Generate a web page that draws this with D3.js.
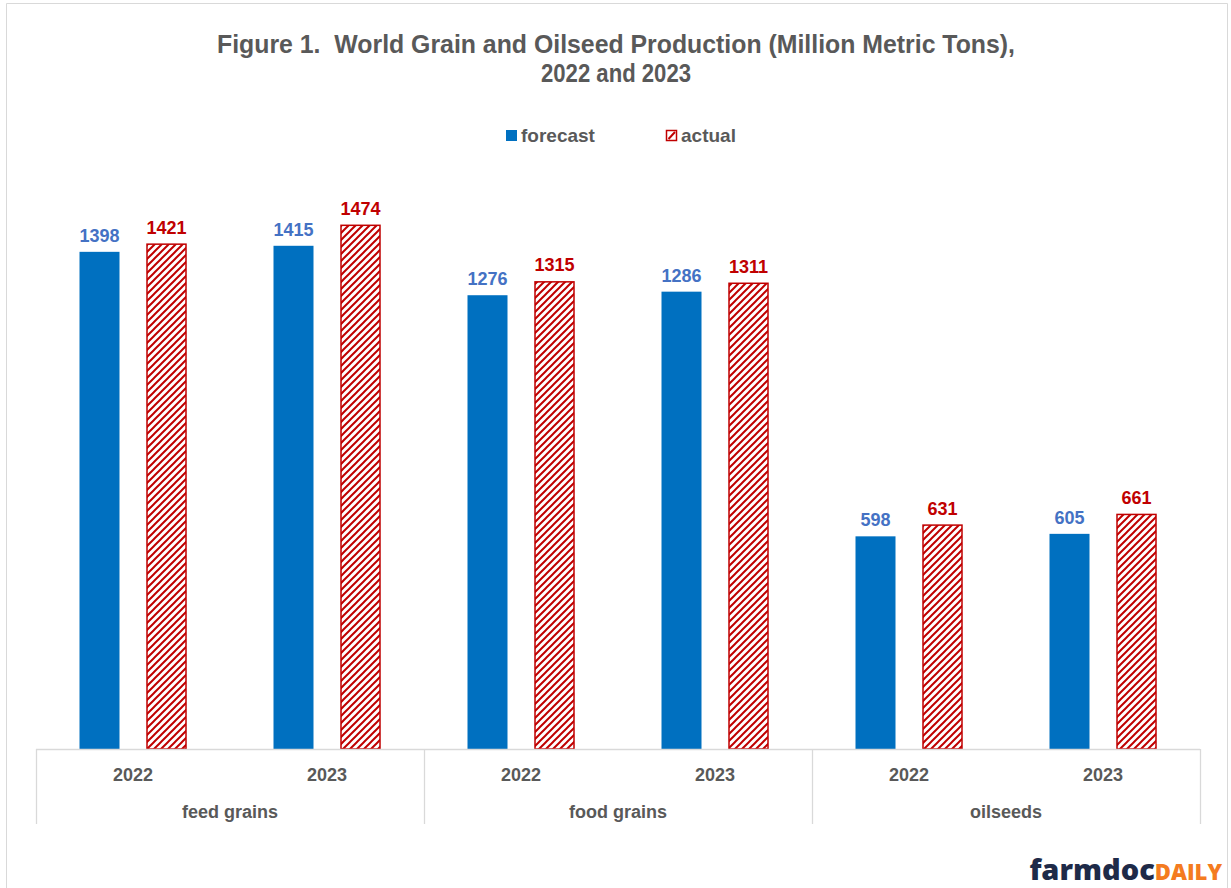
<!DOCTYPE html>
<html>
<head>
<meta charset="utf-8">
<script src="https://cdn.jsdelivr.net/npm/d3@7"></script>
<style>
html,body{margin:0;padding:0;background:#fff;}
svg{display:block;}
</style>
</head>
<body>
<svg id="chart" width="1231" height="888"></svg>
<script>
const groups = ["feed grains", "food grains", "oilseeds"];
const years = ["2022", "2023"];
const seriesNames = ["forecast", "actual"];
const forecastValues = [1398, 1415, 1276, 1286, 598, 605];
const actualValues = [1421, 1474, 1315, 1311, 631, 661];
const titleLines = ["Figure 1.\u00a0 World Grain and Oilseed Production (Million Metric Tons),", "2022 and 2023"];

const svg = d3.select("#chart");
const W = 1231, H = 888;
const gray = "#595959";
const axisGray = "#D9D9D9";
const blue = "#0070C0";
const blueLabel = "#4472C4";
const red = "#C00000";

// frame
svg.append("path")
  .attr("d", `M6.5,${H} V3.5 H1227.5 V${H}`)
  .attr("fill", "none").attr("stroke", "#D9D9D9").attr("stroke-width", 1);

// hatch pattern
const defs = svg.append("defs");
const pat = defs.append("pattern").attr("id", "hatch")
  .attr("patternUnits", "userSpaceOnUse").attr("width", 7).attr("height", 7);
pat.append("rect").attr("width", 7).attr("height", 7).attr("fill", "#fff");
pat.append("path").attr("d", "M-2,2 L2,-2 M0,7 L7,0 M5,9 L9,5")
  .attr("stroke", red).attr("stroke-width", 2);

// title
const titleLens = [798, 150];
const title = svg.append("g")
  .attr("font-family", "'Liberation Sans Narrow','Arial Narrow','Liberation Sans',sans-serif")
  .attr("font-weight", "bold").attr("font-size", 26).attr("fill", gray);
titleLines.forEach((t, i) => {
  title.append("text").attr("x", 616 - titleLens[i] / 2).attr("y", 53 + i * 29)
    .attr("textLength", titleLens[i]).attr("lengthAdjust", "spacingAndGlyphs").text(t);
});

// scales
const x0 = d3.scaleBand().domain(groups).range([36, 1200]).padding(0);
const x1 = d3.scaleBand().domain(years).range([0, x0.bandwidth()]).padding(0);
const x2 = d3.scaleBand().domain(seriesNames)
  .range([x1.bandwidth() / 2 - 53.5, x1.bandwidth() / 2 + 53.5]).paddingInner(0.403).paddingOuter(0);
const y = d3.scaleLinear().domain([0, 1600]).range([749, 180]);

const data = [];
groups.forEach((g, gi) => years.forEach((yr, yi) => {
  const i = gi * 2 + yi;
  data.push({g, yr, s: "forecast", v: forecastValues[i]});
  data.push({g, yr, s: "actual", v: actualValues[i]});
}));

const bx = d => x0(d.g) + x1(d.yr) + x2(d.s);

svg.append("g").selectAll("rect").data(data).join("rect")
  .attr("x", d => bx(d) + (d.s === "actual" ? 0.5 : 0))
  .attr("y", d => y(d.v) + (d.s === "actual" ? 0.5 : 0))
  .attr("width", d => x2.bandwidth() - (d.s === "actual" ? 1 : 0))
  .attr("height", d => y(0) - y(d.v) - (d.s === "actual" ? 0.5 : 0))
  .attr("fill", d => d.s === "forecast" ? blue : "url(#hatch)")
  .attr("stroke", d => d.s === "actual" ? red : "none")
  .attr("stroke-width", 1.5);

svg.append("g").selectAll("text").data(data).join("text")
  .attr("x", d => bx(d) + x2.bandwidth() / 2)
  .attr("y", d => y(d.v) - 10)
  .attr("text-anchor", "middle")
  .attr("font-family", "'Liberation Sans',Arial,sans-serif")
  .attr("font-weight", "bold").attr("font-size", 18)
  .attr("fill", d => d.s === "forecast" ? blueLabel : red)
  .text(d => d.v);

// axis
const ax = svg.append("g").attr("stroke", axisGray).attr("stroke-width", 1.3).attr("fill", "none");
ax.append("line").attr("x1", x0.range()[0]).attr("x2", x0.range()[1]).attr("y1", 749.5).attr("y2", 749.5);
const bounds = groups.map(g => x0(g)).concat([x0.range()[1]]);
bounds.forEach(b => {
  ax.append("line").attr("x1", Math.round(b) + 0.5).attr("x2", Math.round(b) + 0.5)
    .attr("y1", 749).attr("y2", 824);
});

const lbl = svg.append("g").attr("font-family", "'Liberation Sans',Arial,sans-serif")
  .attr("font-weight", "bold").attr("font-size", 18).attr("fill", gray).attr("text-anchor", "middle");
groups.forEach(g => {
  years.forEach(yr => {
    lbl.append("text").attr("x", x0(g) + x1(yr) + x1.bandwidth() / 2).attr("y", 781).text(yr);
  });
  lbl.append("text").attr("x", x0(g) + x0.bandwidth() / 2).attr("y", 818).text(g);
});

// legend
const leg = svg.append("g").attr("font-family", "'Liberation Sans',Arial,sans-serif")
  .attr("font-weight", "bold").attr("font-size", 19).attr("fill", gray);
leg.append("rect").attr("x", 506).attr("y", 130).attr("width", 11).attr("height", 11).attr("fill", blue);
leg.append("text").attr("x", 521).attr("y", 142).text(seriesNames[0]);
leg.append("rect").attr("x", 666.5).attr("y", 130.5).attr("width", 10).attr("height", 10)
  .attr("fill", "#fff").attr("stroke", red).attr("stroke-width", 1.5);
leg.append("path").attr("d", "M668.5,139 L675,132").attr("stroke", red).attr("stroke-width", 2);
leg.append("text").attr("x", 681).attr("y", 142).text(seriesNames[1]);

// logo
const logo = svg.append("text").attr("x", 1222).attr("y", 880).attr("text-anchor", "end")
  .attr("font-family", "'Open Sans','Liberation Sans',sans-serif").attr("font-weight", "bold");
logo.append("tspan").attr("font-size", 29).attr("fill", "#1E2A48").attr("font-weight", 800).text("farmdoc");
logo.append("tspan").attr("font-size", 22).attr("fill", "#F47B20").attr("font-weight", 800).text("DAILY");
</script>
</body>
</html>
